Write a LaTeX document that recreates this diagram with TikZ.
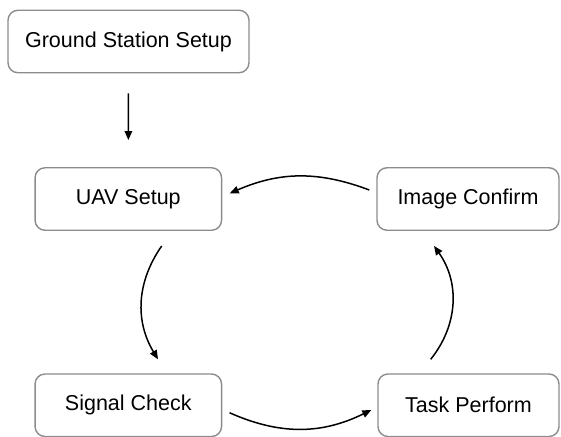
\documentclass[tikz,border=0pt]{standalone}
\usepackage{fontspec}
\setmainfont{Liberation Sans}
\usetikzlibrary{arrows.meta}
\definecolor{boxgray}{RGB}{140,140,140}
\begin{document}
\begin{tikzpicture}[x=1pt,y=1pt,
  stage/.style={draw=boxgray, line width=1.4pt, rounded corners=10pt, inner sep=0pt,
    minimum height=62.5pt, font=\fontsize{21.5}{26}\selectfont},
  flow/.style={draw=black, line width=1.5pt, -{Triangle[length=9pt,width=7.5pt]}}]
\useasboundingbox (0,0) rectangle (561,-436);
\clip (0,0) rectangle (561,-436);

% process stages
\node[stage, minimum width=241pt] (gs) at (128.5,-41.5) {Ground Station Setup};
\node[stage, minimum width=186.5pt] (uav) at (128.3,-199) {UAV Setup};
\node[stage, minimum width=182pt] (img) at (468,-199) {Image Confirm};
\node[stage, minimum width=186.5pt] (sig) at (128.3,-405.25) {Signal Check};
\node[stage, minimum width=181pt] (task) at (468.5,-405.25) {Task Perform};

% flow between stages
\draw[flow, shorten <=20pt, shorten >=27pt] (gs) -- (uav);
\draw[flow] ([shift={(-7pt,9pt)}]img.west) to[bend right=22] ([shift={(7.5pt,5.7pt)}]uav.east);
\draw[flow] ([shift={(33.4pt,-15pt)}]uav.south) to[bend right=33] ([shift={(29.7pt,14pt)}]sig.north);
\draw[flow] ([shift={(7.3pt,-7.5pt)}]sig.east) to[bend right=25] ([shift={(-6pt,-4.75pt)}]task.west);
\draw[flow] ([shift={(-37.8pt,14pt)}]task.north) to[bend right=37] ([shift={(-34pt,-15pt)}]img.south);
\end{tikzpicture}
\end{document}
